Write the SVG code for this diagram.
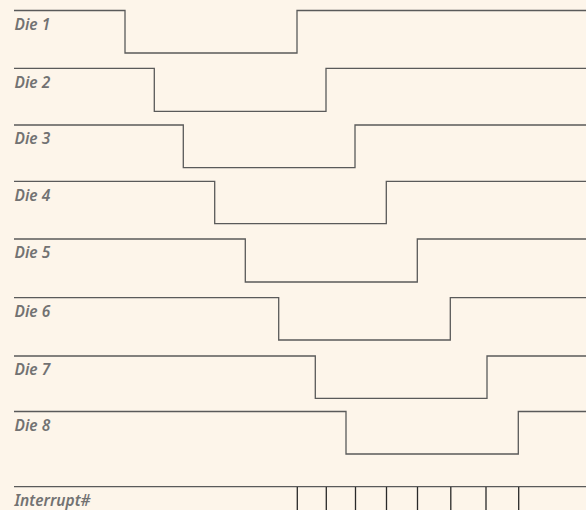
<svg xmlns="http://www.w3.org/2000/svg" width="586" height="510" viewBox="0 0 586 510">
<style>
.bg{fill:#fdf5ea}
.sig{fill:none;stroke:#5a5a5a;stroke-width:1.3}
.tick{fill:none;stroke:#2a2a2a;stroke-width:1.3}
.lbl{font-family:"Noto Sans","Liberation Sans",sans-serif;font-weight:600;font-style:italic;font-size:15.5px;fill:#727272}
</style>
<rect class="bg" x="0" y="0" width="586" height="510"/>
<g id="die1"><path class="sig" d="M14 10.5H125V53H297V10.5H586"/><text class="lbl" x="14.5" y="29.5">Die 1</text></g>
<g id="die2"><path class="sig" d="M14 68.3H154.3V111.3H326V68.3H586"/><text class="lbl" x="14.5" y="87.5">Die 2</text></g>
<g id="die3"><path class="sig" d="M14 125H183.3V167.7H355V125H586"/><text class="lbl" x="14.5" y="144">Die 3</text></g>
<g id="die4"><path class="sig" d="M14 181.3H214.7V223.7H386.3V181.3H586"/><text class="lbl" x="14.5" y="200.5">Die 4</text></g>
<g id="die5"><path class="sig" d="M14 239H245.3V282H417.3V239H586"/><text class="lbl" x="14.5" y="258">Die 5</text></g>
<g id="die6"><path class="sig" d="M14 297.7H278.7V340H450.3V297.7H586"/><text class="lbl" x="14.5" y="316.5">Die 6</text></g>
<g id="die7"><path class="sig" d="M14 356H315.3V398.3H487V356H586"/><text class="lbl" x="14.5" y="375">Die 7</text></g>
<g id="die8"><path class="sig" d="M14 411.5H346V454H518.3V411.5H586"/><text class="lbl" x="14.5" y="430.5">Die 8</text></g>
<g id="interrupt"><path class="sig" d="M14 486.7H586"/><path class="tick" d="M297.3 487V510M326.3 487V510M355.5 487V510M386.5 487V510M417.5 487V510M450.8 487V510M486 487V510M518.7 487V510"/><text class="lbl" x="14.5" y="505.5">Interrupt#</text></g>
</svg>
